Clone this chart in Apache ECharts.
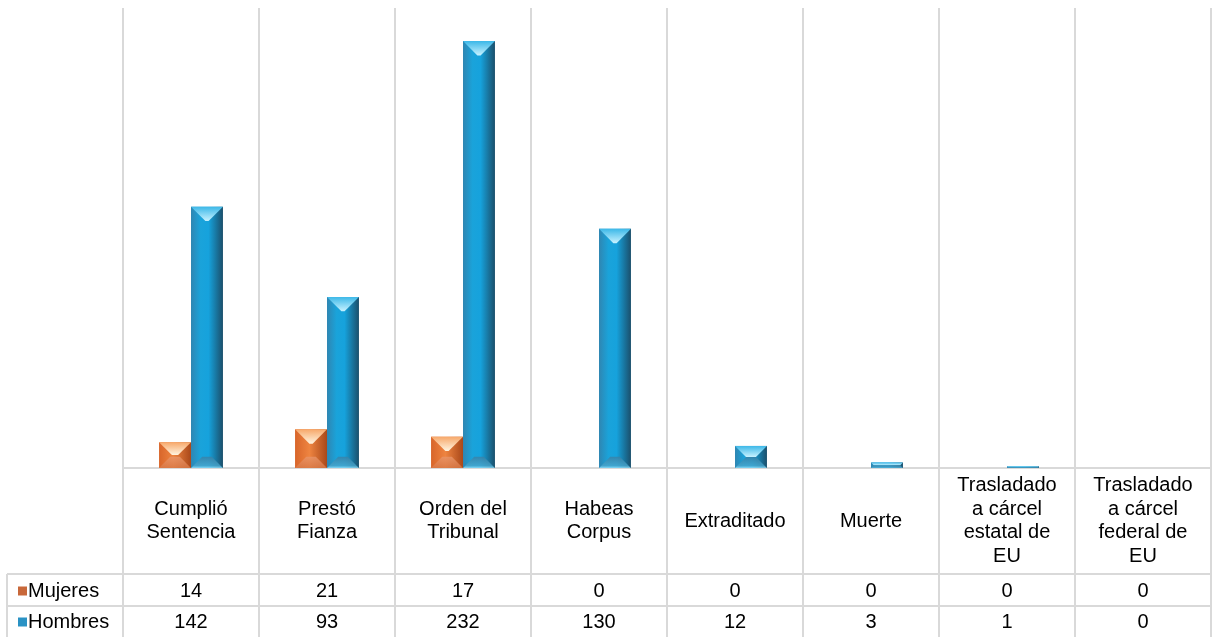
<!DOCTYPE html>
<html><head><meta charset="utf-8">
<script src="https://cdn.jsdelivr.net/npm/echarts@6/dist/echarts.min.js"></script>
<style>html,body{margin:0;padding:0;background:#fff}#c{width:1215px;height:637px}</style>
</head><body><div id="c"></div>
<script>
const categories = ['Cumplió\nSentencia','Prestó\nFianza','Orden del\nTribunal','Habeas\nCorpus','Extraditado','Muerte','Trasladado\na cárcel\nestatal de\nEU','Trasladado\na cárcel\nfederal de\nEU'];
const seriesNames = ['Mujeres','Hombres'];
const mujeres = [14,21,17,0,0,0,0,0];
const hombres = [142,93,232,130,12,3,1,0];
const yMax = 250;

const LINE = '#d9d9d9';
const FONT = 'Liberation Sans, Arial, sans-serif';
const FS = 20;

const palettes = {
  Mujeres: {
    legend: '#c8683a',
    body: [[0,'#d8652a'],[0.45,'#ee8440'],[1,'#a9481a']],
    top: [[0,'#f7a86a'],[1,'#fff4e0']],
    bottom: [[0,'#e8956a'],[1,'#d97a48']]
  },
  Hombres: {
    legend: '#2a92c4',
    body: [[0,'#2f86b2'],[0.3,'#1aa3da'],[0.55,'#16a2dc'],[1,'#1b4f6b']],
    top: [[0,'#3cb8e8'],[1,'#c8f2ff']],
    bottom: [[0,'#3a7fa3'],[0.8,'#4aa6cc'],[1,'#9be6ff']]
  }
};

function grad(stops, x2, y2) {
  return new echarts.graphic.LinearGradient(0, 0, x2, y2, stops.map(s => ({offset: s[0], color: s[1]})));
}

function bevelRender(pal, side) {
  return function (params, api) {
    const v = api.value(1);
    if (!v) return null;
    const top = api.coord([api.value(0), v]);
    const base = api.coord([api.value(0), 0]);
    const band = api.size([1, 0])[0];
    const w = band * 0.235;
    const x0 = top[0] + (side < 0 ? -w : 0);
    const x1 = x0 + w;
    const y0 = top[1], y1 = base[1];
    const h = y1 - y0;
    const d = Math.min(w / 2 * 0.9, h / 2);
    const db = Math.min(w / 2 * 0.7, h / 2);
    return {
      type: 'group',
      children: [
        {type: 'rect', shape: {x: x0, y: y0, width: w, height: h}, style: {fill: grad(pal.body, 1, 0)}},
        {type: 'polygon', shape: {points: [[x0, y0], [x1, y0], [x1 - d, y0 + d], [x0 + d, y0 + d]]}, style: {fill: grad(pal.top, 0, 1)}},
        {type: 'polygon', shape: {points: [[x0, y1], [x1, y1], [x1 - db, y1 - db], [x0 + db, y1 - db]]}, style: {fill: grad(pal.bottom, 0, 1), opacity: 0.8}}
      ]
    };
  };
}

const chart = echarts.init(document.getElementById('c'), null, {renderer: 'canvas'});
const gridTop = 8, gridBottom = 169, gridLeft = 123, gridRight = 4;

const valueAxisLabel = (arr, margin) => ({
  show: true, interval: 0, margin: margin, verticalAlign: 'middle',
  fontSize: FS, color: '#000', fontFamily: FONT,
  formatter: (val, idx) => String(arr[idx])
});

const legendCommon = {
  orient: 'vertical', left: 13, itemWidth: 9, itemHeight: 9, icon: 'rect',
  textStyle: {fontSize: FS, color: '#000', fontFamily: FONT, padding: [0, 0, 0, -4]}
};

chart.setOption({
  animation: false,
  backgroundColor: '#fff',
  textStyle: {fontFamily: FONT},
  grid: {left: gridLeft, right: gridRight, top: gridTop, bottom: gridBottom},
  legend: [
    Object.assign({top: 576, data: [seriesNames[0]]}, legendCommon),
    Object.assign({top: 607, data: [seriesNames[1]]}, legendCommon)
  ],
  xAxis: [
    {
      type: 'category', data: categories, position: 'bottom',
      axisLine: {show: true, lineStyle: {color: LINE, width: 2}},
      axisTick: {show: true, length: gridBottom, lineStyle: {color: LINE, width: 2}},
      splitLine: {show: true, lineStyle: {color: LINE, width: 2}},
      axisLabel: {interval: 0, margin: 53, verticalAlign: 'middle', align: 'center', lineHeight: 23.5, fontSize: FS, color: '#000', fontFamily: FONT}
    },
    {
      type: 'category', data: categories, position: 'bottom',
      axisLine: {show: false}, axisTick: {show: false}, splitLine: {show: false},
      axisLabel: valueAxisLabel(mujeres, 123)
    },
    {
      type: 'category', data: categories, position: 'bottom',
      axisLine: {show: false}, axisTick: {show: false}, splitLine: {show: false},
      axisLabel: valueAxisLabel(hombres, 154)
    }
  ],
  yAxis: {type: 'value', min: 0, max: yMax, show: false},
  series: [
    {
      name: 'Mujeres', type: 'custom', xAxisIndex: 0,
      itemStyle: {color: palettes.Mujeres.legend},
      renderItem: bevelRender(palettes.Mujeres, -1),
      encode: {x: 0, y: 1},
      data: mujeres.map((v, i) => [i, v])
    },
    {
      name: 'Hombres', type: 'custom', xAxisIndex: 0,
      itemStyle: {color: palettes.Hombres.legend},
      renderItem: bevelRender(palettes.Hombres, 1),
      encode: {x: 0, y: 1},
      data: hombres.map((v, i) => [i, v])
    }
  ],
  graphic: [
    {type: 'line', shape: {x1: 7, y1: 574, x2: 1211, y2: 574}, style: {stroke: LINE, lineWidth: 2}, silent: true},
    {type: 'line', shape: {x1: 7, y1: 606, x2: 1211, y2: 606}, style: {stroke: LINE, lineWidth: 2}, silent: true},
    {type: 'line', shape: {x1: 7, y1: 574, x2: 7, y2: 637}, style: {stroke: LINE, lineWidth: 2}, silent: true}
  ]
});
</script></body></html>
